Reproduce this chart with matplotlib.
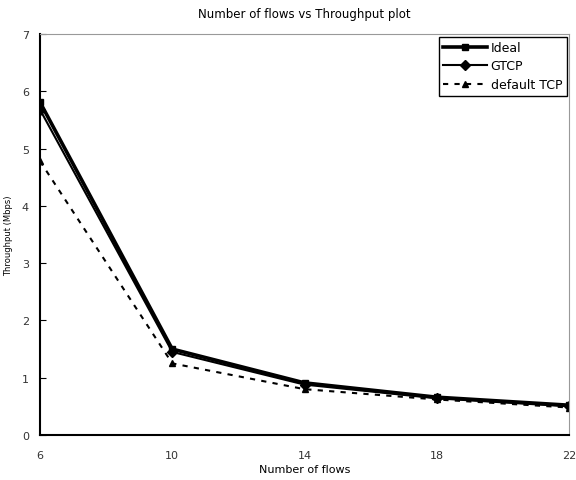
import matplotlib
matplotlib.use("Agg")
import matplotlib.pyplot as plt

flows = [6, 10, 14, 18, 22]
ideal = [5.81, 1.50, 0.91, 0.66, 0.52]
gtcp = [5.68, 1.45, 0.88, 0.64, 0.50]
default_tcp = [4.78, 1.25, 0.80, 0.62, 0.48]
xticks = [6, 10, 14, 18, 22]
yticks = [0, 1, 2, 3, 4, 5, 6, 7]

fig = plt.figure(figsize=(5.76, 4.81), dpi=100)
ax = fig.add_axes([40/576, 1-436/481, 529/576, 401/481])

ax.plot(flows, ideal, color="black", lw=2.6, marker="s", ms=5, label="Ideal")
ax.plot(flows, gtcp, color="black", lw=1.5, marker="D", ms=5, label="GTCP")
ax.plot(flows, default_tcp, color="black", lw=1.5, ls=(0, (2.5, 3)), marker="^", ms=5, label="default TCP")

ax.set_xlim(6, 22)
ax.set_ylim(0, 7)
ax.set_xticks(xticks)
ax.set_yticks(yticks)
ax.tick_params(axis="y", direction="in", length=4, labelsize=8, width=0.8, pad=8, labelcolor="#333333")
ax.tick_params(axis="x", direction="in", length=0, labelsize=8, pad=11, labelcolor="#333333")
for s in ["top", "right"]:
    ax.spines[s].set_color("#999999")
for s in ["left", "bottom"]:
    ax.spines[s].set_linewidth(1.5)

ax.set_title("Number of flows vs Throughput plot", fontsize=8.5, pad=12)
ax.set_xlabel("Number of flows", fontsize=8, labelpad=3)
ax.set_ylabel("Throughput (Mbps)", fontsize=6, labelpad=6)

leg = ax.legend(loc="upper right", fontsize=9, fancybox=False, edgecolor="black",
                framealpha=1, borderaxespad=0.2, handlelength=3.5, handletextpad=0.3,
                borderpad=0.35, labelspacing=0.45)
leg.get_frame().set_linewidth(1.0)

fig.savefig("out.png", dpi=100)
